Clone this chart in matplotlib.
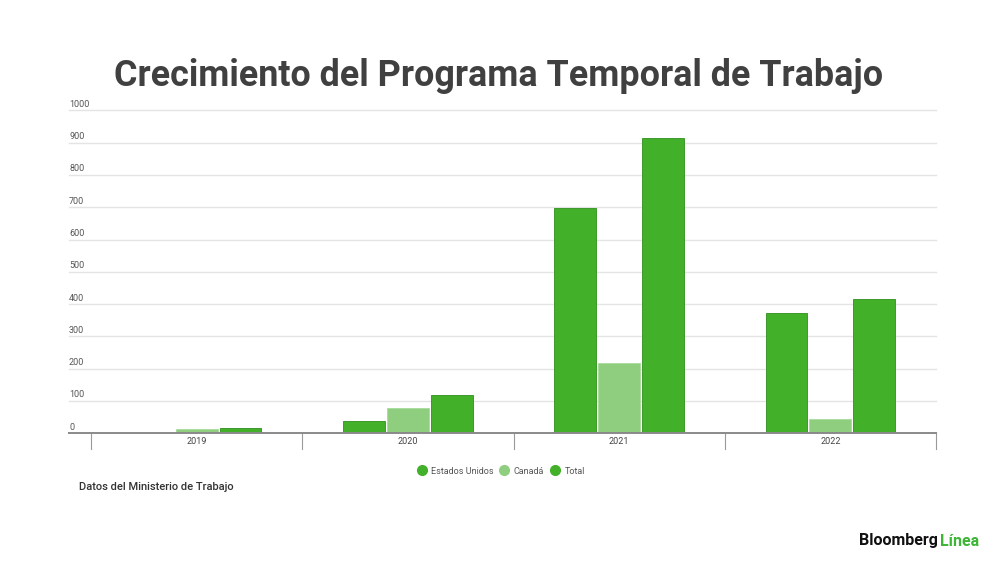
import matplotlib
matplotlib.use("Agg")
import matplotlib.pyplot as plt
from matplotlib.lines import Line2D
import numpy as np

plt.rcParams['font.family'] = ['Roboto', 'DejaVu Sans']

years = ["2019", "2020", "2021", "2022"]
estados_unidos = [2, 39, 697, 373]
canada = [14, 79, 218, 43]
total = [15, 118, 916, 416]
series_names = ["Estados Unidos", "Canadá", "Total"]
yticks = [0, 100, 200, 300, 400, 500, 600, 700, 800, 900, 1000]

c_dark = "#43b02a"
c_light = "#8fce7f"
edge_dark = "#2f8f1c"

W, H = 1000, 562
fig = plt.figure(figsize=(10, 5.62), dpi=100)
fig.patch.set_facecolor("white")

def fx(px): return px / W
def fy(py): return (H - py) / H

left, right, top, bottom = 91, 936, 110.5, 433.3
ax = fig.add_axes([fx(left), fy(bottom), fx(right - left), fy(top) - fy(bottom)])

x = np.arange(len(years))
step = 0.208
bw = 0.198
ax.bar(x - step, estados_unidos, bw, color=c_dark, edgecolor=edge_dark, linewidth=0.6, zorder=3)
ax.bar(x, canada, bw, color=c_light, edgecolor="#a8dc9b", linewidth=0.6, zorder=3)
ax.bar(x + step, total, bw, color=c_dark, edgecolor=edge_dark, linewidth=0.6, zorder=3)

ax.set_xlim(-0.5, len(years) - 0.5)
ax.set_ylim(0, 1000)
for s in ax.spines.values():
    s.set_visible(False)
ax.set_xticks([])
ax.set_yticks([])

ext = (69 - left) / (right - left)
for v in yticks:
    if v == 0:
        continue
    ax.axhline(v, xmin=ext, xmax=1, color="#e4e4e4", linewidth=1.0, zorder=1, clip_on=False)
# baseline
ax.axhline(0, xmin=ext, xmax=1, color="#8a8a8a", linewidth=1.4, zorder=4, clip_on=False)

# y tick labels above gridlines
trans = ax.get_yaxis_transform()
for v in yticks:
    ax.text(ext, v + 5, str(v), transform=trans, ha="left", va="bottom",
            fontsize=6.5, color="#555555", clip_on=False)

# category separators
for b in np.arange(-0.5, len(years), 1.0):
    ax.plot([b, b], [0, -50], color="#9a9a9a", linewidth=0.8, clip_on=False, zorder=2)
for xi, lab in zip(x, years):
    ax.text(xi, -24, lab, ha="center", va="center", fontsize=6.5, color="#444444", clip_on=False)

# title
fig.text(fx(498.5), fy(86), "Crecimiento del Programa Temporal de Trabajo", ha="center",
         va="baseline", fontsize=25.8, fontweight="bold", color="#404040")

# legend
handles = [Line2D([], [], marker="o", linestyle="none", markersize=7, markerfacecolor=c,
                  markeredgecolor=c) for c in (c_dark, c_light, c_dark)]
fig.legend(handles, series_names, loc="center", bbox_to_anchor=(fx(501), fy(471)), ncol=3,
           frameon=False, fontsize=6.5, handletextpad=0.55, columnspacing=0.7,
           labelcolor="#555555", handlelength=1.0)

# source
fig.text(fx(79), fy(487), "Datos del Ministerio de Trabajo", ha="left", va="center",
         fontsize=8.0, fontweight="medium", color="#333333")

# logo
fig.text(fx(938), fy(541), "Bloomberg", ha="right", va="center", fontsize=11.5,
         fontweight="bold", color="#111111")
fig.text(fx(979), fy(541), "Línea", ha="right", va="center", fontsize=11.5,
         fontweight="bold", color="#3db535")

fig.savefig("out.png", dpi=100, facecolor="white")
